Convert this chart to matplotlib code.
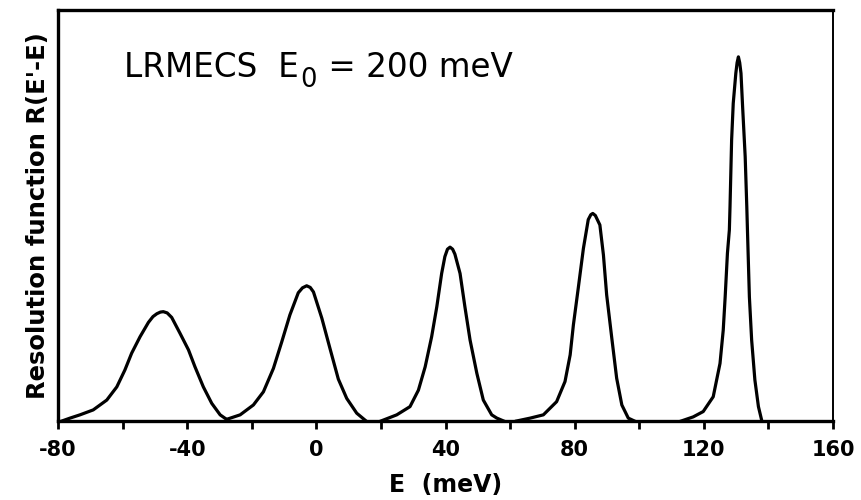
import numpy as np
import matplotlib
matplotlib.use("Agg")
import matplotlib.pyplot as plt
from matplotlib.transforms import offset_copy

# resolution peaks (E in meV, R in arbitrary units)
e1 = [-78.8, -76.3, -73.2, -69.1, -64.9, -61.8, -59.3, -57.2, -54.6, -52.0, -50.6, -49.4,
      -48.3, -47.4, -46.2, -44.8, -42.2, -39.6, -37.6, -35.0, -32.4, -29.8, -27.8]
r1 = [0.0, 0.007, 0.015, 0.027, 0.051, 0.083, 0.124, 0.165, 0.205, 0.240, 0.254, 0.261,
      0.265, 0.266, 0.263, 0.252, 0.213, 0.173, 0.132, 0.083, 0.043, 0.015, 0.004]

e2 = [-27.8, -23.6, -19.5, -16.4, -13.3, -10.7, -8.2, -5.6, -4.3, -3.0, -1.9, -0.9, 1.7,
      4.2, 6.8, 9.4, 12.5, 15.1]
r2 = [0.004, 0.015, 0.039, 0.071, 0.128, 0.193, 0.258, 0.312, 0.324, 0.329, 0.325, 0.314,
      0.250, 0.177, 0.102, 0.055, 0.019, 0.002]

e3 = [20.0, 24.9, 29.0, 31.6, 33.7, 35.7, 37.3, 38.8, 39.8, 40.6, 41.4, 42.2, 42.9, 44.5,
      46.0, 47.6, 49.7, 51.7, 54.3, 55.9, 58.0]
r3 = [0.0, 0.015, 0.035, 0.075, 0.132, 0.205, 0.278, 0.359, 0.400, 0.418, 0.423, 0.418,
      0.406, 0.359, 0.278, 0.197, 0.116, 0.051, 0.015, 0.007, 0.0]

e4 = [62.0, 66.2, 70.3, 74.4, 77.0, 78.6, 79.6, 81.1, 82.7, 84.2, 85.0, 85.6, 86.4, 87.8,
      88.9, 89.9, 91.5, 93.0, 94.6, 96.6, 98.5]
r4 = [0.0, 0.007, 0.015, 0.047, 0.096, 0.161, 0.234, 0.323, 0.420, 0.490, 0.502, 0.505,
      0.500, 0.477, 0.404, 0.307, 0.201, 0.104, 0.039, 0.007, 0.0]

e5 = [113.0, 116.7, 119.8, 122.9, 125.0, 126.0, 126.6, 127.3, 127.9, 128.1, 128.6, 129.1,
      129.9, 130.3, 130.7, 131.1, 131.5, 132.0, 132.8, 133.3, 133.5, 134.1, 134.8, 135.8,
      136.9, 137.9]
r5 = [0.0, 0.010, 0.023, 0.059, 0.140, 0.221, 0.302, 0.408, 0.465, 0.521, 0.684, 0.773,
      0.846, 0.872, 0.886, 0.872, 0.846, 0.765, 0.643, 0.521, 0.465, 0.302, 0.197, 0.100,
      0.035, 0.002]

peaks = [(e1, r1), (e2, r2), (e3, r3), (e4, r4), (e5, r5)]

fig = plt.figure(figsize=(8.61, 5.0), dpi=100)
ax = fig.add_axes([0.0674, 0.158, 0.9001, 0.822])

for e, r in peaks:
    ax.plot(e, r, color="black", lw=2.3, solid_joinstyle="round")

ax.set_xlim(-80, 160)
ax.set_ylim(0, 1.0)

xt = np.arange(-80, 161, 20)
ax.set_xticks(xt)
ax.set_xticklabels([str(v) if v % 40 == 0 else "" for v in xt],
                   fontsize=15, fontweight="bold")
ax.set_yticks([])
ax.tick_params(axis="x", direction="out", length=6, width=2, pad=8)

for s in ["left", "bottom", "top"]:
    ax.spines[s].set_linewidth(2.4)
ax.spines["right"].set_linewidth(1.4)

ax.set_xlabel("E  (meV)", fontsize=17, fontweight="bold", labelpad=9)
ax.set_ylabel("Resolution function R(E'-E)", fontsize=17.5, fontweight="bold", labelpad=6)

# title-like label built in pieces so the subscript can be near full size
fig.canvas.draw()
rend = fig.canvas.get_renderer()
t1 = ax.text(0.085, 0.837, "LRMECS  E", transform=ax.transAxes,
             fontsize=23.5, va="baseline")
w1 = t1.get_window_extent(rend).width * 72 / fig.dpi
t2 = ax.text(0.085, 0.837, "0", fontsize=18.5, va="baseline",
             transform=offset_copy(ax.transAxes, fig=fig, x=w1 + 1, y=-7, units="points"))
w2 = t2.get_window_extent(rend).width * 72 / fig.dpi
ax.text(0.085, 0.837, " = 200 meV", fontsize=23.5, va="baseline",
        transform=offset_copy(ax.transAxes, fig=fig, x=w1 + w2 + 2, y=0, units="points"))

fig.savefig("out.png", dpi=100)
